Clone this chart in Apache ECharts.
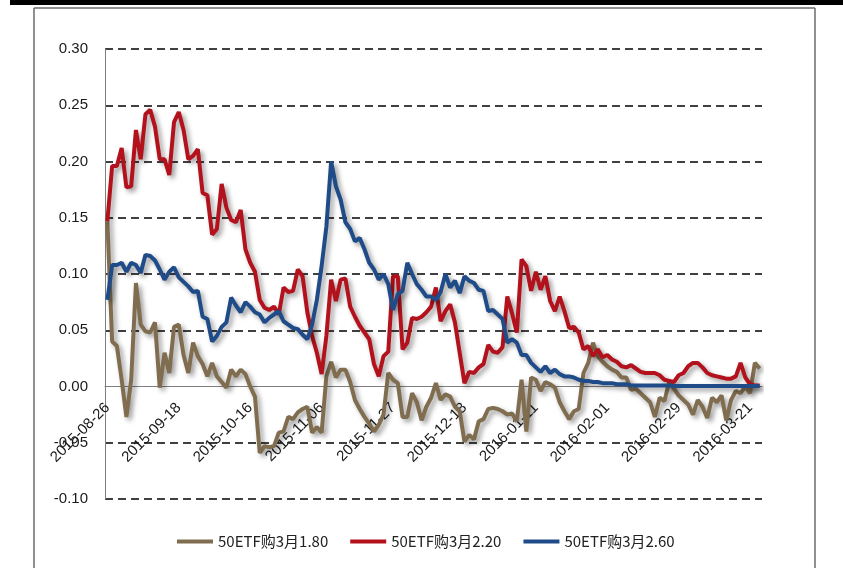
<!DOCTYPE html>
<html>
    <head>
        <meta charset="utf-8">
        <title>50ETF购3月</title>
        <style>
            html, body { margin: 0; padding: 0; background: #fff; }
            #chart1 { width: 843px; height: 568px; }
        </style>
    </head>
    <body>
        <div id="chart1"></div>
    </body>
    <script src="https://cdn.jsdelivr.net/npm/echarts/dist/echarts.min.js"></script>
    <script type="text/javascript">
        // 交易日（按月列出）
        var monthDays = [
            ['2015-08', [26, 27, 28, 31]],
            ['2015-09', [1, 2, 7, 8, 9, 10, 11, 14, 15, 16, 17, 18, 21, 22, 23, 24, 25, 28, 29, 30]],
            ['2015-10', [8, 9, 12, 13, 14, 15, 16, 19, 20, 21, 22, 23, 26, 27, 28, 29, 30]],
            ['2015-11', [2, 3, 4, 5, 6, 9, 10, 11, 12, 13, 16, 17, 18, 19, 20, 23, 24, 25, 26, 27, 30]],
            ['2015-12', [1, 2, 3, 4, 7, 8, 9, 10, 11, 14, 15, 16, 17, 18, 21, 22, 23, 24, 25, 28, 29, 30, 31]],
            ['2016-01', [4, 5, 6, 7, 8, 11, 12, 13, 14, 15, 18, 19, 20, 21, 22, 25, 26, 27, 28, 29]],
            ['2016-02', [1, 2, 3, 4, 5, 15, 16, 17, 18, 19, 22, 23, 24, 25, 26, 29]],
            ['2016-03', [1, 2, 3, 4, 7, 8, 9, 10, 11, 14, 15, 16, 17, 18, 21, 22, 23]]
        ];
        var dates = [];
        monthDays.forEach(function (m) {
            m[1].forEach(function (d) {
                dates.push(m[0] + '-' + (d < 10 ? '0' + d : d));
            });
        });

        var seriesNames = ['50ETF购3月1.80', '50ETF购3月2.20', '50ETF购3月2.60'];

        // 50ETF购3月1.80
        var call180 = [
            0.147, 0.040, 0.036, 0.006, -0.027, 0.006, 0.092, 0.055, 0.049, 0.048,
            0.057, -0.001, 0.030, 0.012, 0.053, 0.055, 0.028, 0.012, 0.039, 0.027,
            0.020, 0.009, 0.021, 0.009, 0.004, -0.001, 0.015, 0.009, 0.015, 0.011,
            0.000, -0.009, -0.059, -0.053, -0.054, -0.053, -0.041, -0.040, -0.027, -0.029,
            -0.023, -0.020, -0.018, -0.041, -0.036, -0.041, 0.009, 0.022, 0.008, 0.015,
            0.015, 0.004, -0.012, -0.020, -0.027, -0.033, -0.040, -0.034, -0.025, 0.012,
            0.006, 0.003, -0.027, -0.027, -0.006, -0.014, -0.030, -0.018, -0.010, 0.003,
            -0.012, -0.007, -0.009, -0.018, -0.022, -0.049, -0.043, -0.047, -0.031, -0.029,
            -0.020, -0.019, -0.020, -0.022, -0.025, -0.024, -0.031, 0.006, -0.040, 0.008,
            0.006, -0.004, 0.004, 0.002, -0.001, -0.014, -0.022, -0.029, -0.022, -0.020,
            0.012, 0.021, 0.039, 0.027, 0.022, 0.018, 0.015, 0.013, 0.008, 0.008,
            -0.003, -0.002, -0.006, -0.010, -0.014, -0.027, -0.010, -0.013, 0.004, -0.002,
            -0.008, -0.012, -0.016, -0.025, -0.012, -0.018, -0.028, -0.010, -0.014, -0.008,
            -0.030, -0.012, -0.004, -0.006, 0.000, -0.006, 0.021, 0.016
        ];

        // 50ETF购3月2.20
        var call220 = [
            0.147, 0.196, 0.196, 0.212, 0.177, 0.178, 0.228, 0.202, 0.242, 0.246,
            0.231, 0.202, 0.202, 0.188, 0.235, 0.244, 0.228, 0.202, 0.205, 0.211,
            0.172, 0.170, 0.135, 0.140, 0.180, 0.159, 0.148, 0.146, 0.157, 0.122,
            0.110, 0.102, 0.077, 0.070, 0.068, 0.071, 0.064, 0.088, 0.084, 0.085,
            0.104, 0.098, 0.066, 0.045, 0.030, 0.011, 0.045, 0.095, 0.076, 0.095,
            0.096, 0.071, 0.062, 0.054, 0.048, 0.042, 0.020, 0.009, 0.027, 0.031,
            0.098, 0.098, 0.033, 0.039, 0.061, 0.060, 0.062, 0.066, 0.071, 0.088,
            0.058, 0.067, 0.073, 0.057, 0.030, 0.003, 0.013, 0.012, 0.017, 0.020,
            0.037, 0.031, 0.030, 0.035, 0.080, 0.065, 0.048, 0.113, 0.107, 0.085,
            0.102, 0.086, 0.098, 0.076, 0.067, 0.080, 0.067, 0.052, 0.053, 0.048,
            0.033, 0.036, 0.027, 0.033, 0.026, 0.028, 0.024, 0.022, 0.018, 0.017,
            0.019, 0.016, 0.013, 0.012, 0.012, 0.012, 0.010, 0.006, 0.005, 0.004,
            0.010, 0.012, 0.018, 0.021, 0.021, 0.017, 0.012, 0.010, 0.009, 0.008,
            0.007, 0.007, 0.009, 0.021, 0.008, 0.002, 0.001, 0.001
        ];

        // 50ETF购3月2.60
        var call260 = [
            0.077, 0.108, 0.108, 0.110, 0.102, 0.110, 0.108, 0.101, 0.117, 0.116,
            0.112, 0.104, 0.095, 0.102, 0.106, 0.097, 0.093, 0.089, 0.084, 0.085,
            0.062, 0.060, 0.040, 0.045, 0.053, 0.057, 0.079, 0.072, 0.066, 0.075,
            0.071, 0.066, 0.064, 0.057, 0.061, 0.064, 0.067, 0.058, 0.055, 0.052,
            0.051, 0.046, 0.042, 0.055, 0.077, 0.107, 0.142, 0.200, 0.178, 0.166,
            0.146, 0.140, 0.129, 0.132, 0.122, 0.110, 0.104, 0.095, 0.100, 0.091,
            0.068, 0.082, 0.085, 0.110, 0.100, 0.091, 0.086, 0.080, 0.080, 0.077,
            0.084, 0.100, 0.088, 0.094, 0.083, 0.098, 0.094, 0.092, 0.086, 0.085,
            0.067, 0.068, 0.064, 0.060, 0.039, 0.042, 0.039, 0.028, 0.028, 0.021,
            0.017, 0.013, 0.018, 0.012, 0.015, 0.011, 0.009, 0.009, 0.008, 0.006,
            0.005, 0.005, 0.004, 0.004, 0.003, 0.003, 0.003, 0.002, 0.002, 0.002,
            0.001, 0.001, 0.001, 0.001, 0.001, 0.001, 0.001, 0.001, 0.001, 0.0005,
            0.0005, 0.0005, 0.0005, 0.0005, 0.0005, 0.0005, 0.0005, 0.0005, 0.0005, 0.0005,
            0.0005, 0.0005, 0.0005, 0.0005, 0.0005, 0.0005, 0.0005, 0.0005
        ];

        var colors = ['#806D4F', '#B3111C', '#1F4C88'];
        var labelFont = '"Liberation Sans Narrow", "Liberation Sans", "Noto Sans CJK SC", sans-serif';

        var myChart = echarts.init(document.getElementById('chart1'));

        function makeSeries(name, data, color) {
            return {
                name: name,
                type: 'line',
                data: data,
                showSymbol: false,
                symbol: 'none',
                color: color,
                lineStyle: {
                    width: 4,
                    color: color,
                    shadowColor: 'rgba(0, 0, 0, 0.4)',
                    shadowBlur: 5,
                    shadowOffsetX: 3,
                    shadowOffsetY: 3
                }
            };
        }

        var option = {
            animation: false,
            backgroundColor: '#fff',
            grid: { left: 105, right: 81, top: 49, bottom: 69, outerBoundsMode: 'none', containLabel: false },
            legend: {
                data: seriesNames,
                left: 172,
                top: 529,
                icon: 'rect',
                itemWidth: 36,
                itemHeight: 4,
                itemGap: 22,
                textStyle: { fontSize: 15, color: '#222', fontFamily: '"Noto Sans CJK SC", sans-serif' }
            },
            xAxis: {
                type: 'category',
                data: dates,
                boundaryGap: true,
                // 类目轴放在 0 的位置
                offset: -112.5,
                axisLine: { onZero: false, lineStyle: { color: '#7f7f7f', width: 1 } },
                axisTick: { show: false },
                axisLabel: {
                    interval: 14,
                    rotate: 45,
                    margin: 19,
                    fontSize: 15,
                    color: '#1a1a1a',
                    fontFamily: labelFont
                },
                splitLine: { show: false }
            },
            yAxis: {
                type: 'value',
                min: -0.1,
                max: 0.3,
                interval: 0.05,
                axisLine: { show: true, lineStyle: { color: '#7f7f7f', width: 1 } },
                axisTick: { show: false },
                axisLabel: {
                    margin: 17,
                    fontSize: 15,
                    color: '#1a1a1a',
                    fontFamily: labelFont,
                    formatter: function (v) { return v.toFixed(2); }
                },
                splitLine: {
                    show: true,
                    lineStyle: {
                        // 0 处不画虚线（由类目轴线代替）
                        color: ['#404040', '#404040', 'rgba(0,0,0,0)', '#404040', '#404040',
                                '#404040', '#404040', '#404040', '#404040'],
                        width: 2,
                        type: [8, 5]
                    }
                }
            },
            graphic: [
                { type: 'rect', shape: { x: 10, y: 0, width: 833, height: 5 }, style: { fill: '#000' } },
                { type: 'line', shape: { x1: 34, y1: 8, x2: 815, y2: 8 }, style: { stroke: '#6b6b6b', lineWidth: 1.5 } },
                { type: 'line', shape: { x1: 34, y1: 8, x2: 34, y2: 568 }, style: { stroke: '#6b6b6b', lineWidth: 1.5 } },
                { type: 'line', shape: { x1: 815, y1: 8, x2: 815, y2: 568 }, style: { stroke: '#6b6b6b', lineWidth: 1.5 } }
            ],
            series: [
                makeSeries(seriesNames[0], call180, colors[0]),
                makeSeries(seriesNames[1], call220, colors[1]),
                makeSeries(seriesNames[2], call260, colors[2])
            ]
        };
        myChart.setOption(option);
    </script>
</html>
